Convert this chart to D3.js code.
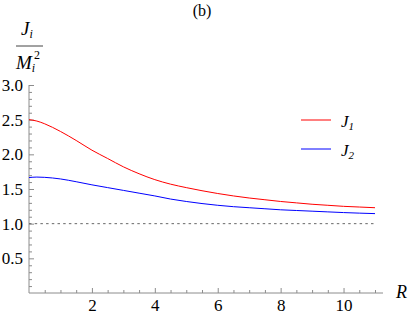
<!DOCTYPE html>
<html>
<head>
<meta charset="utf-8">
<script src="https://cdn.jsdelivr.net/npm/d3@7/dist/d3.min.js"></script>
<style>
  body { margin: 0; background: #fff; }
  svg, svg text { font-family: 'Liberation Serif', 'DejaVu Serif', serif !important; }
</style>
</head>
<body>
<svg id="canvas"></svg>
<script>
// values
const radius = [0, 0.25, 0.5, 1, 1.5, 2, 2.5, 3, 3.5, 4, 4.5, 5, 5.5, 6, 6.5, 7, 7.5, 8, 8.5, 9, 9.5, 10, 10.5, 11];
const j1 = [2.50, 2.48, 2.44, 2.33, 2.20, 2.06, 1.94, 1.82, 1.72, 1.635, 1.57, 1.52, 1.475, 1.435, 1.40, 1.37,
            1.345, 1.32, 1.30, 1.28, 1.265, 1.25, 1.24, 1.23];
const j2 = [1.665, 1.672, 1.668, 1.645, 1.605, 1.56, 1.52, 1.48, 1.44, 1.40, 1.355, 1.32, 1.29, 1.265, 1.245, 1.23,
            1.215, 1.20, 1.19, 1.18, 1.17, 1.16, 1.152, 1.145];
const xTicks = [2, 4, 6, 8, 10];
const yTicks = [0.5, 1.0, 1.5, 2.0, 2.5, 3.0];
const refLevel = 1.0;

const width = 409;
const height = 316;
const axisColor = '#8c8c8c';

const svg = d3.select('#canvas')
  .attr('width', width)
  .attr('height', height);

const xScale = d3.scaleLinear().domain([0, 11]).range([29, 375]);
const yScale = d3.scaleLinear().domain([0, 3]).range([293, 85]);

// minor ticks
const xMinor = d3.range(0.5, 11.01, 0.5).filter(v => v % 2 !== 0);
const yMinor = d3.range(0.1, 3.01, 0.1).map(v => +v.toFixed(1)).filter(v => Math.round(v * 10) % 5 !== 0);

const xAxisG = svg.append('g').attr('transform', `translate(0,${yScale(0)})`);
xAxisG.append('g')
  .call(d3.axisBottom(xScale).tickValues(xMinor).tickSize(-3).tickFormat(''));
xAxisG.append('g')
  .call(d3.axisBottom(xScale).tickValues(xTicks).tickSize(-5).tickPadding(6).tickFormat(d3.format('d')));

const yAxisG = svg.append('g').attr('transform', `translate(${xScale(0)},0)`);
yAxisG.append('g')
  .call(d3.axisLeft(yScale).tickValues(yMinor).tickSize(-3).tickFormat(''));
yAxisG.append('g')
  .call(d3.axisLeft(yScale).tickValues(yTicks).tickSize(-5).tickPadding(6).tickFormat(d3.format('.1f')));

svg.selectAll('.domain').remove();
svg.selectAll('g').attr('font-family', null);
svg.selectAll('.tick line').attr('stroke', axisColor);
svg.selectAll('.tick text').attr('font-size', 17).attr('fill', '#000');

// axis lines
svg.append('line')
  .attr('x1', xScale(0)).attr('x2', 383)
  .attr('y1', yScale(0)).attr('y2', yScale(0))
  .attr('stroke', axisColor);
svg.append('line')
  .attr('x1', xScale(0)).attr('x2', xScale(0))
  .attr('y1', yScale(0)).attr('y2', yScale(3))
  .attr('stroke', axisColor);

// dotted reference line
svg.append('line')
  .attr('x1', xScale(0)).attr('x2', xScale(11))
  .attr('y1', yScale(refLevel)).attr('y2', yScale(refLevel))
  .attr('stroke', '#666')
  .attr('stroke-dasharray', '2.5,3.2');

const line = d3.line()
  .x((d, i) => xScale(radius[i]))
  .y(d => yScale(d))
  .curve(d3.curveMonotoneX);

svg.append('path').datum(j1)
  .attr('d', line).attr('fill', 'none').attr('stroke', '#ff0000').attr('stroke-width', 1);
svg.append('path').datum(j2)
  .attr('d', line).attr('fill', 'none').attr('stroke', '#0000ff').attr('stroke-width', 1);

// title
svg.append('text')
  .attr('x', 202).attr('y', 16)
  .attr('text-anchor', 'middle')
  .attr('font-size', 16)
  .text('(b)');

// y label as fraction
const yl = svg.append('g');
const num = yl.append('text').attr('x', 21).attr('y', 35).attr('font-size', 19);
num.append('tspan').attr('font-style', 'italic').text('J');
num.append('tspan').attr('font-style', 'italic').attr('font-size', 12).attr('dy', 3).text('i');
yl.append('line')
  .attr('x1', 16).attr('x2', 43).attr('y1', 46).attr('y2', 46)
  .attr('stroke', '#444').attr('stroke-width', 1);
const den = yl.append('text').attr('x', 16).attr('y', 69).attr('font-size', 19);
den.append('tspan').attr('font-style', 'italic').text('M');
den.append('tspan').attr('font-style', 'italic').attr('font-size', 12).attr('dy', 3).text('i');
yl.append('text').attr('x', 34).attr('y', 59).attr('font-size', 12).text('2');

// x label
svg.append('text')
  .attr('x', 396).attr('y', 298)
  .attr('font-size', 18).attr('font-style', 'italic')
  .text('R');

// legend
const legendItems = [
  { name: '1', color: '#ff0000', y: 120 },
  { name: '2', color: '#0000ff', y: 149 }
];
legendItems.forEach(item => {
  svg.append('line')
    .attr('x1', 301).attr('x2', 331)
    .attr('y1', item.y).attr('y2', item.y)
    .attr('stroke', item.color);
  const t = svg.append('text').attr('x', 341).attr('y', item.y + 7).attr('font-size', 17);
  t.append('tspan').attr('font-style', 'italic').text('J');
  t.append('tspan').attr('font-style', 'italic').attr('font-size', 11).attr('dy', 3).text(item.name);
});
</script>
</body>
</html>
